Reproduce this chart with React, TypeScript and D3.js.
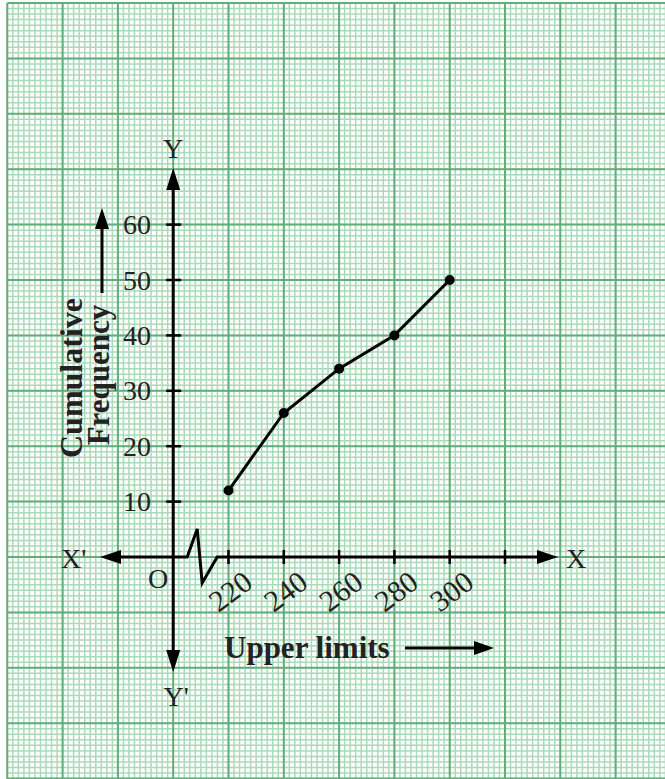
import React from "react";
import * as d3 from "d3";

const upperLimits = [220, 240, 260, 280, 300];
const cumulativeFrequency = [12, 26, 34, 40, 50];
const xTicks = [220, 240, 260, 280, 300, 320];
const xTickLabels = ["220", "240", "260", "280", "300", ""];
const yTicks = [10, 20, 30, 40, 50, 60];

const W = 665;
const H = 779;

export default function App() {
  const x = d3.scaleLinear().domain([200, 320]).range([173.2, 505]);
  const y = d3.scaleLinear().domain([0, 60]).range([557, 224.6]);

  const x0 = x(200);
  const y0 = y(0);

  const minorX = d3.range(140, 440, 2).map((v) => x(v)).filter((p) => p <= W + 2);
  const majorX = d3.range(140, 440, 20).map((v) => x(v)).filter((p) => p <= W + 2);
  const minorY = d3.range(-40, 101, 1).map((v) => y(v)).filter((p) => p >= 0);
  const majorY = d3.range(-40, 101, 10).map((v) => y(v)).filter((p) => p >= 0);
  const gx0 = x(140);
  const gy0 = y(100);

  const line = d3
    .line<number>()
    .x((_, i) => x(upperLimits[i]))
    .y((d) => y(d));

  const kink = `M${x0},${y0} L${x0 + 14},${y0} L${x0 + 24},${y0 - 28} L${x0 + 29},${y0 + 26} L${x0 + 44},${y0} L537,${y0}`;

  const serif = "'Liberation Serif', 'Times New Roman', serif";
  const textColor = "#222";

  return (
    <svg
      width={W}
      height={H}
      style={{ position: "absolute", left: 0, top: 0, background: "#fff" }}
    >
      <g>
        {minorX.map((p, i) => (
          <line key={"mx" + i} x1={p} x2={p} y1={gy0} y2={H} stroke="#abdab8" strokeWidth={1.5} />
        ))}
        {minorY.map((p, i) => (
          <line key={"my" + i} x1={gx0} x2={W} y1={p} y2={p} stroke="#abdab8" strokeWidth={1.5} />
        ))}
        {majorX.map((p, i) => (
          <line key={"Mx" + i} x1={p} x2={p} y1={gy0} y2={H} stroke="#62ae7a" strokeWidth={2} />
        ))}
        {majorY.map((p, i) => (
          <line key={"My" + i} x1={gx0} x2={W} y1={p} y2={p} stroke="#62ae7a" strokeWidth={2} />
        ))}
      </g>

      {/* axes */}
      <line x1={x0} x2={x0} y1={188} y2={652} stroke="#000" strokeWidth={3} />
      <path d={`M${x0},168 L${x0 - 7},190 L${x0 + 7},190 Z`} fill="#000" />
      <path d={`M${x0},672 L${x0 - 7},650 L${x0 + 7},650 Z`} fill="#000" />
      <line x1={118} x2={x0} y1={y0} y2={y0} stroke="#000" strokeWidth={3} />
      <path d={`M100,${y0} L121,${y0 - 7} L121,${y0 + 7} Z`} fill="#000" />
      <path d={kink} fill="none" stroke="#000" strokeWidth={3} strokeLinejoin="miter" />
      <path d={`M558,${y0} L537,${y0 - 7} L537,${y0 + 7} Z`} fill="#000" />

      {/* y ticks */}
      {yTicks.map((t) => (
        <g key={"yt" + t}>
          <line x1={x0 - 7} x2={x0 + 8} y1={y(t)} y2={y(t)} stroke="#000" strokeWidth={2.5} />
          <text
            x={151}
            y={y(t) + 9.5}
            textAnchor="end"
            fontFamily={serif}
            fontSize={28}
            fill={textColor}
          >
            {t}
          </text>
        </g>
      ))}

      {/* x ticks */}
      {xTicks.map((t, i) => (
        <g key={"xt" + t}>
          <line x1={x(t)} x2={x(t)} y1={y0 - 7} y2={y0 + 7} stroke="#000" strokeWidth={2.5} />
          {xTickLabels[i] && (
            <text
              transform={`translate(${x(t) - 10},${y0 + 56}) rotate(-37)`}
              fontFamily={serif}
              fontSize={30}
              fill={textColor}
            >
              {xTickLabels[i]}
            </text>
          )}
        </g>
      ))}

      {/* data line */}
      <path d={line(cumulativeFrequency) || ""} fill="none" stroke="#000" strokeWidth={3} />
      {cumulativeFrequency.map((v, i) => (
        <circle key={"pt" + i} cx={x(upperLimits[i])} cy={y(v)} r={5} fill="#000" />
      ))}

      {/* axis letters */}
      <text x={x0} y={158} textAnchor="middle" fontFamily={serif} fontSize={28} fill={textColor}>Y</text>
      <text x={x0 + 3} y={706} textAnchor="middle" fontFamily={serif} fontSize={28} fill={textColor}>Y'</text>
      <text x={61} y={568} fontFamily={serif} fontSize={28} fill={textColor}>X'</text>
      <text x={566} y={568} fontFamily={serif} fontSize={28} fill={textColor}>X</text>
      <text x={158} y={588} textAnchor="middle" fontFamily={serif} fontSize={28} fill={textColor}>O</text>

      {/* axis titles */}
      <text x={224} y={658} fontFamily={serif} fontSize={31} fontWeight="bold" fill={textColor}>
        Upper limits
      </text>
      <line x1={405} x2={475} y1={648} y2={648} stroke="#000" strokeWidth={3} />
      <path d="M494,648 L474,641 L474,655 Z" fill="#000" />

      <text
        transform="translate(82,378) rotate(-90)"
        textAnchor="middle"
        fontFamily={serif}
        fontSize={32}
        fontWeight="bold"
        fill={textColor}
      >
        Cumulative
      </text>
      <text
        transform="translate(109,375) rotate(-90)"
        textAnchor="middle"
        fontFamily={serif}
        fontSize={31}
        fontWeight="bold"
        fill={textColor}
      >
        Frequency
      </text>
      <line x1={102} x2={102} y1={293} y2={228} stroke="#000" strokeWidth={3} />
      <path d="M102,208 L95,229 L109,229 Z" fill="#000" />
    </svg>
  );
}
